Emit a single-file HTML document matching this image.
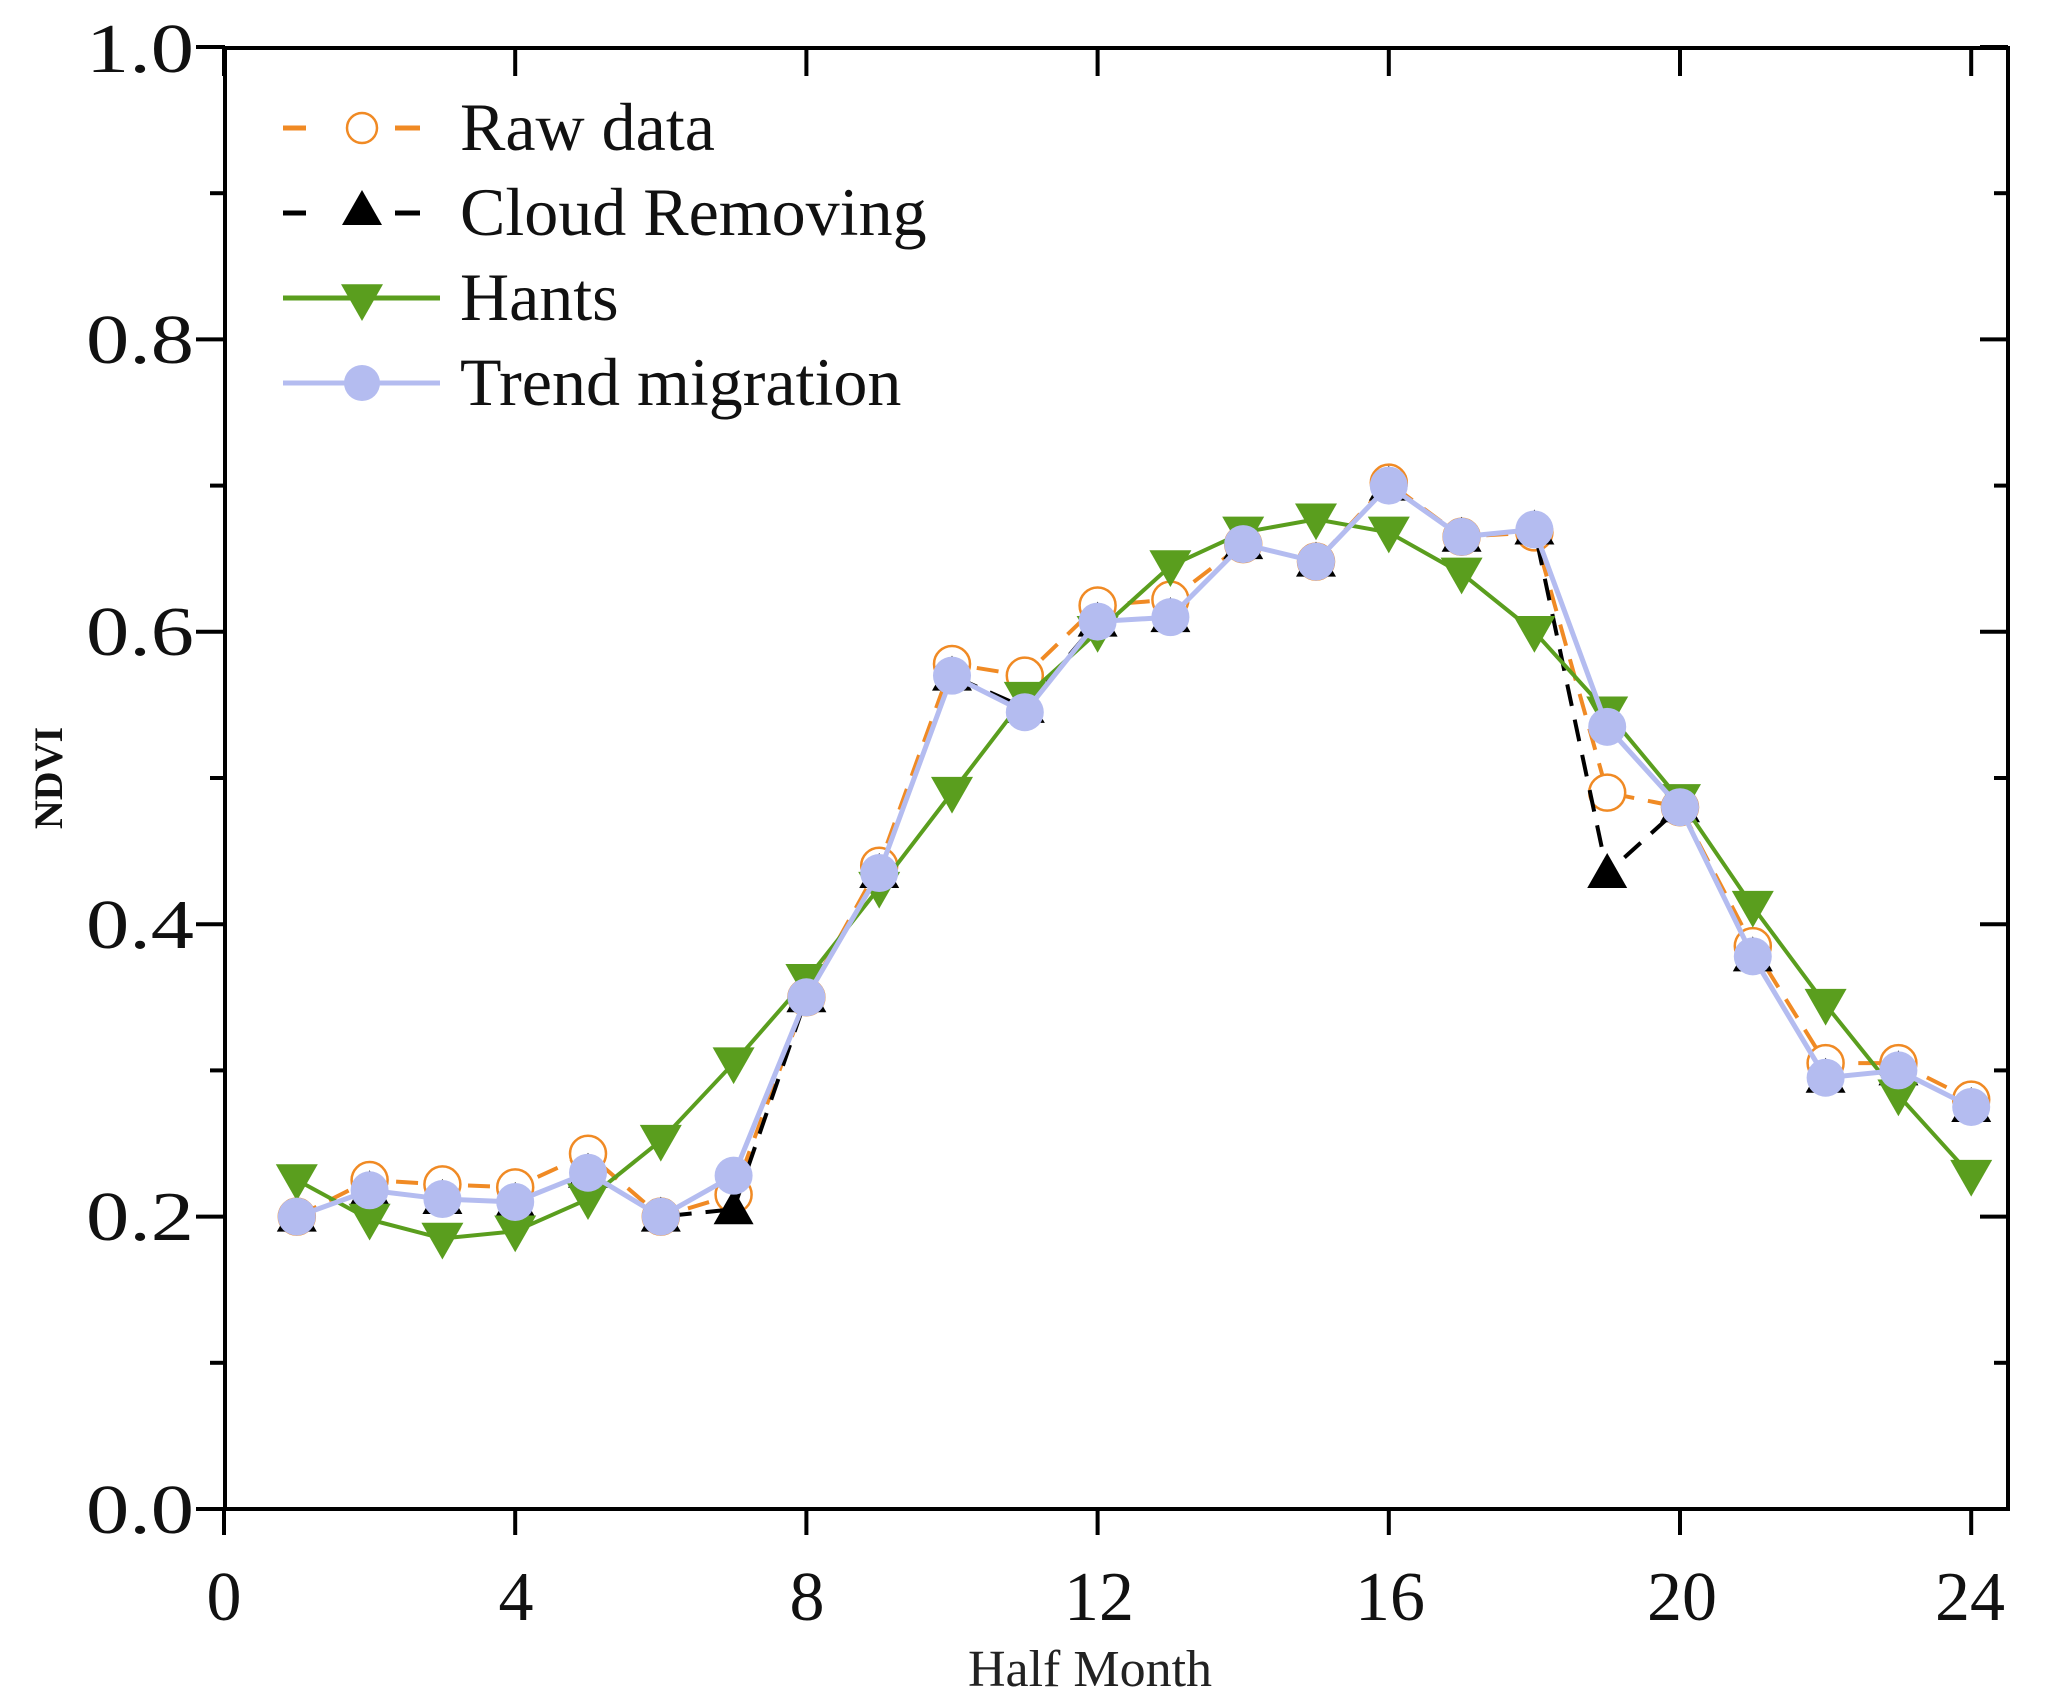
<!DOCTYPE html>
<html><head><meta charset="utf-8"><style>
html,body{margin:0;padding:0;background:#fff;}
svg{display:block;font-family:"Liberation Serif",serif;}
</style></head><body>
<svg id="s" width="2061" height="1706" viewBox="0 0 2061 1706" xmlns="http://www.w3.org/2000/svg">
<rect width="2061" height="1706" fill="#fff"/>
<g id="plot"></g>
<rect x="225" y="48" width="1783" height="1461" fill="none" stroke="#000" stroke-width="4"/>
<g id="ticks" stroke="#000" stroke-width="4"></g>
<g font-size="70" fill="#111" text-anchor="end">
<text x="194" y="1533" textLength="108" lengthAdjust="spacingAndGlyphs">0.0</text>
<text x="194" y="1240" textLength="108" lengthAdjust="spacingAndGlyphs">0.2</text>
<text x="194" y="948" textLength="108" lengthAdjust="spacingAndGlyphs">0.4</text>
<text x="194" y="655" textLength="108" lengthAdjust="spacingAndGlyphs">0.6</text>
<text x="194" y="363" textLength="108" lengthAdjust="spacingAndGlyphs">0.8</text>
<text x="194" y="72" textLength="108" lengthAdjust="spacingAndGlyphs">1.0</text>
</g>
<g font-size="70" fill="#111" text-anchor="middle">
<text x="224" y="1620">0</text>
<text x="516" y="1620">4</text>
<text x="807" y="1620">8</text>
<text x="1099" y="1620">12</text>
<text x="1390" y="1620">16</text>
<text x="1682" y="1620">20</text>
<text x="1970" y="1620">24</text>
</g>
<text x="1090" y="1686" font-size="52" text-anchor="middle" fill="#222">Half Month</text>
<text transform="translate(62,778) rotate(-90)" font-size="40" font-weight="bold" text-anchor="middle" fill="#111">NDVI</text>
<g id="legend"></g>
<g font-size="68" fill="#111">
<text x="460" y="150">Raw data</text>
<text x="460" y="235">Cloud Removing</text>
<text x="460" y="320">Hants</text>
<text x="460" y="405">Trend migration</text>
</g>
</svg>
<script>
const NS="http://www.w3.org/2000/svg";
const X=v=>224+v*72.8, Y=v=>1509-v*1462;
function el(t,a,p){const e=document.createElementNS(NS,t);for(const k in a)e.setAttribute(k,a[k]);p.appendChild(e);return e;}
const plot=document.getElementById('plot'),ticks=document.getElementById('ticks'),leg=document.getElementById('legend');
for(let i=0;i<=24;i+=4){el('line',{x1:X(i),x2:X(i),y1:1509,y2:1535},ticks);el('line',{x1:X(i),x2:X(i),y1:48,y2:76},ticks);}
for(let i=0;i<=10;i++){const y=Y(i/10),maj=i%2==0;el('line',{x1:maj?196:210,x2:225,y1:y,y2:y},ticks);el('line',{x1:2008,x2:maj?1980:1994,y1:y,y2:y},ticks);}
const raw=[.20,.225,.222,.22,.243,.20,.215,.35,.44,.578,.57,.618,.622,.66,.648,.702,.665,.668,.49,.48,.385,.305,.305,.28];
const cld=[.20,.218,.212,.21,.23,.20,.205,.35,.435,.57,.548,.607,.61,.66,.648,.70,.665,.67,.435,.48,.378,.295,.30,.275];
const han=[.225,.198,.185,.19,.212,.252,.305,.362,.425,.49,.555,.60,.645,.668,.677,.668,.64,.60,.545,.485,.412,.345,.283,.228];
const trd=cld.slice();trd[6]=.228;trd[18]=.535;trd[10]=.545;
const pts=a=>a.map((v,i)=>X(i+1)+','+Y(v)).join(' ');
const up=(x,y,r)=>`${x},${y-r} ${x+r*1.0},${y+r*0.75} ${x-r*1.0},${y+r*0.75}`;
const dn=(x,y,r)=>`${x},${y+r} ${x+r*1.0},${y-r*0.75} ${x-r*1.0},${y-r*0.75}`;
el('polyline',{points:pts(raw),fill:'none',stroke:'#f08a24','stroke-width':4,'stroke-dasharray':'22 14'},plot);
raw.forEach((v,i)=>el('circle',{cx:X(i+1),cy:Y(v),r:18,fill:'#fff',stroke:'#f08a24','stroke-width':2.5},plot));
el('polyline',{points:pts(cld),fill:'none',stroke:'#000','stroke-width':4,'stroke-dasharray':'22 14'},plot);
cld.forEach((v,i)=>el('polygon',{points:up(X(i+1),Y(v),20),fill:'#000'},plot));
el('polyline',{points:pts(han),fill:'none',stroke:'#5a9e1e','stroke-width':4},plot);
han.forEach((v,i)=>el('polygon',{points:dn(X(i+1),Y(v),21),fill:'#5a9e1e'},plot));
el('polyline',{points:pts(trd),fill:'none',stroke:'#b4bcf0','stroke-width':5},plot);
trd.forEach((v,i)=>el('circle',{cx:X(i+1),cy:Y(v),r:19,fill:'#b4bcf0'},plot));
const mx=362;
el('line',{x1:283,x2:306,y1:128,y2:128,stroke:'#f08a24','stroke-width':5},leg);
el('line',{x1:395,x2:420,y1:128,y2:128,stroke:'#f08a24','stroke-width':5},leg);
el('circle',{cx:mx,cy:128,r:15,fill:'#fff',stroke:'#f08a24','stroke-width':2.5},leg);
el('line',{x1:283,x2:306,y1:213,y2:213,stroke:'#000','stroke-width':5},leg);
el('line',{x1:395,x2:420,y1:213,y2:213,stroke:'#000','stroke-width':5},leg);
el('polygon',{points:up(mx,210,20),fill:'#000'},leg);
el('line',{x1:283,x2:440,y1:298,y2:298,stroke:'#5a9e1e','stroke-width':5},leg);
el('polygon',{points:dn(mx,300,21),fill:'#5a9e1e'},leg);
el('line',{x1:283,x2:440,y1:383,y2:383,stroke:'#b4bcf0','stroke-width':5},leg);
el('circle',{cx:mx,cy:383,r:18,fill:'#b4bcf0'},leg);
</script>
</body></html>
